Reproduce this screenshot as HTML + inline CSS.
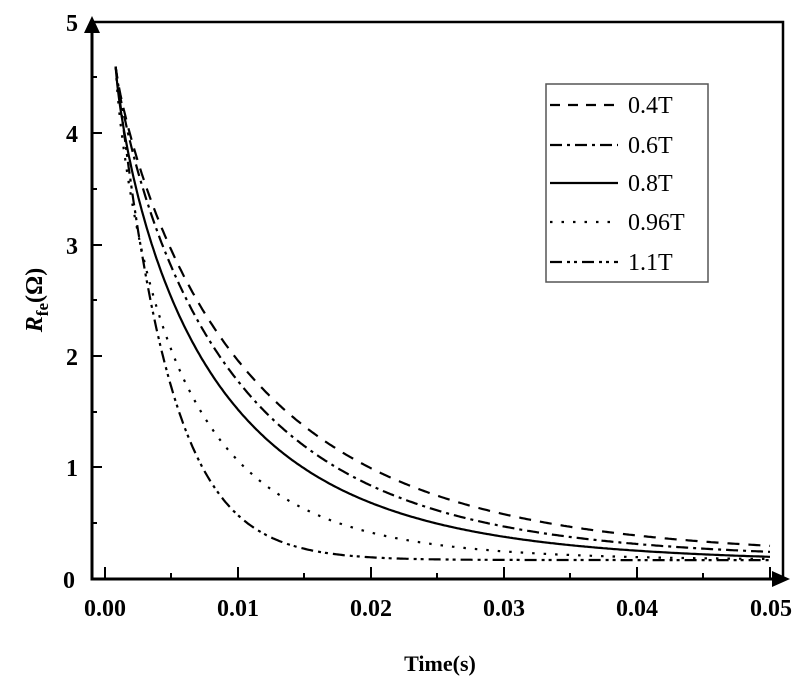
<!DOCTYPE html>
<html><head><meta charset="utf-8"><style>body{margin:0;background:#fff}svg{display:block}</style></head>
<body>
<svg id="s" width="800" height="682" xmlns="http://www.w3.org/2000/svg" font-family="Liberation Serif, serif">
<g stroke="#000" stroke-width="3" fill="none">
<path d="M92,26 V579 H779"/>
<path d="M92,22 H783 V579" stroke-width="2.5"/>
</g>
<polygon points="92,16 84,33 100,33" fill="#000"/>
<polygon points="790,579 772,571 772,587" fill="#000"/>
<g stroke="#000" stroke-width="2">
<path d="M105,579v-12M238,579v-12M371,579v-12M504,579v-12M637,579v-12M770,579v-12"/>
<path d="M171,579v-6M304,579v-6M437,579v-6M570,579v-6M703,579v-6"/>
<path d="M92,467h10M92,356h10M92,245h10M92,133h10"/>
<path d="M92,523h5M92,412h5M92,300h5M92,189h5M92,77h5"/>
</g>
<g font-weight="bold" font-size="24" text-anchor="middle">
<text x="105" y="616">0.00</text><text x="238" y="616">0.01</text><text x="371" y="616">0.02</text><text x="504" y="616">0.03</text><text x="637" y="616">0.04</text><text x="771" y="616">0.05</text>
<text x="75" y="588" text-anchor="end">0</text><text x="78" y="476" text-anchor="end">1</text><text x="78" y="365" text-anchor="end">2</text><text x="78" y="254" text-anchor="end">3</text><text x="78" y="142" text-anchor="end">4</text><text x="78" y="31" text-anchor="end">5</text>
<text x="440" y="671" font-size="22">Time(s)</text>
<text transform="translate(42,300) rotate(-90)" font-size="24"><tspan font-style="italic">R</tspan><tspan font-size="17" dy="6">fe</tspan><tspan dy="-6">(Ω)</tspan></text>
</g>
<g id="curves" fill="none" stroke="#000" stroke-width="2.2"></g>
<rect x="546" y="84" width="162" height="198" fill="none" stroke="#555" stroke-width="1.5"/>
<g font-size="24">
<text x="628" y="113">0.4T</text><text x="628" y="153">0.6T</text><text x="628" y="191">0.8T</text><text x="628" y="230">0.96T</text><text x="628" y="270">1.1T</text>
</g>
<g stroke="#000" stroke-width="2.2">
<line x1="550" y1="105" x2="618" y2="105" stroke-dasharray="10,8"/>
<line x1="550" y1="145" x2="618" y2="145" stroke-dasharray="12,5,3,5"/>
<line x1="550" y1="183" x2="618" y2="183"/>
<line x1="550" y1="222" x2="618" y2="222" stroke-dasharray="2.5,9"/>
<line x1="550" y1="262" x2="618" y2="262" stroke-dasharray="12,5,3,4,3,5"/>
</g>
</svg>
<script>
var g=document.getElementById('curves');
var sets=[[0.0102,0.2,0.85,'12,9'],[0.009,0.18,0.85,'12,5,3,5'],[0.0075,0.15,0.8,''],[0.0051,0.17,0.8,'2.5,9'],[0.0040,0.17,1.05,'12,5,3,4,3,5']];
sets.forEach(function(s){
 var d='';
 for(var i=0;i<=400;i++){var t=0.0008+(0.05-0.0008)*i/400;
  var r=s[1]+(4.6-s[1])*Math.exp(-Math.pow((t-0.0008)/s[0],s[2]));
  var x=105+t*13300, y=579-r*111.4;
  d+=(i?'L':'M')+x.toFixed(1)+','+y.toFixed(1);}
 var p=document.createElementNS('http://www.w3.org/2000/svg','path');
 p.setAttribute('d',d); if(s[3])p.setAttribute('stroke-dasharray',s[3]);
 g.appendChild(p);
});
</script>
</body></html>
